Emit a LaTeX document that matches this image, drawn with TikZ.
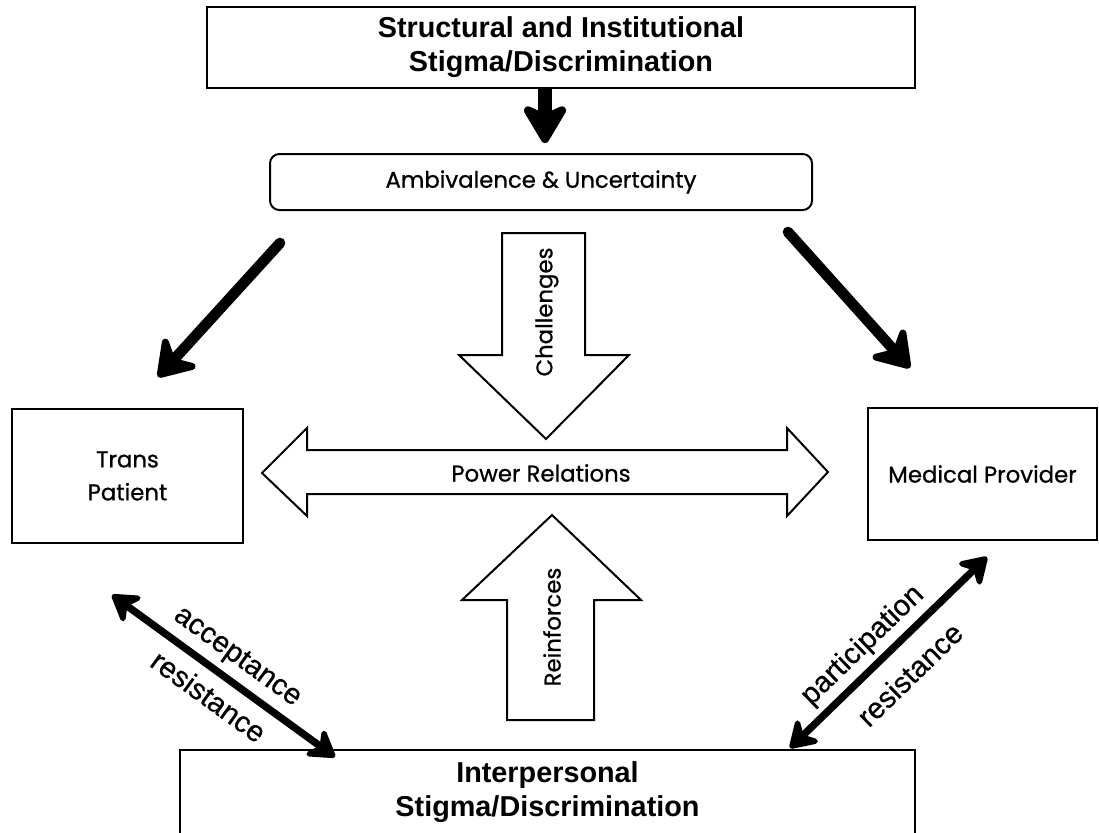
\documentclass[tikz,border=0pt]{standalone}
\usepackage{fontspec}
\setmainfont{Liberation Sans}
\newfontfamily\gothic{Poppins}[FakeBold=0.8]
\newfontfamily\lblfont{Liberation Sans}[FakeBold=0.6]
\usetikzlibrary{arrows.meta}

\tikzset{
  box/.style={draw, line width=1.5pt, inner sep=0pt, align=center},
  headtxt/.style={font=\bfseries\fontsize{21.6}{25.5}\selectfont},
  gothtxt/.style={font=\gothic\fontsize{17.1}{24.75}\selectfont, align=center},
  hollow/.style={draw, line width=1.5pt, line join=miter, fill=white},
  heavy/.style={line width=8pt, line cap=round, -{Stealth[length=32pt,width=42pt,inset=11pt,round]}},
  dbl/.style={line width=5.5pt, {Stealth[length=24pt,width=30pt,inset=8pt,round]}-{Stealth[length=24pt,width=30pt,inset=8pt,round]}},
  lbl/.style={font=\lblfont\fontsize{22}{26}\selectfont, sloped, inner sep=2pt}
}

\begin{document}
\begin{tikzpicture}[x=0.75pt,y=-0.75pt]
\useasboundingbox (0,0) rectangle (1099,832);
\node[box, headtxt, minimum width=531pt, minimum height=60.75pt] (struct) at (561,47.5) {Structural and Institutional\\Stigma/Discrimination};
\node[box, gothtxt, rounded corners=7pt, minimum width=406.5pt, minimum height=42pt] (ambiv) at (541,182) {Ambivalence \& Uncertainty};
\node[box, gothtxt, minimum width=173.25pt, minimum height=100.5pt] (trans) at (127.5,476) {Trans\\Patient};
\node[box, gothtxt, minimum width=171.75pt, minimum height=99pt] (medic) at (982.5,474) {Medical Provider};
\node[box, headtxt, minimum width=551.25pt, minimum height=63pt] (interp) at (547.5,792) {Interpersonal\\Stigma/Discrimination};

\draw[hollow] (502,233) -- (585,233) -- (585,355) -- (629,355) -- (546,439) -- (459,355) -- (502,355) -- cycle;
\draw[hollow] (262,473) -- (307,428) -- (307,450) -- (787,450) -- (787,428) -- (828,472) -- (787,516) -- (787,494) -- (307,494) -- (307,516) -- cycle;
\draw[hollow] (507,720) -- (594,720) -- (594,600) -- (641,600) -- (552,515) -- (462,600) -- (507,600) -- cycle;
\node[gothtxt, rotate=90] (chal) at (547,312) {Challenges};
\node[gothtxt] (power) at (541,473) {Power Relations};
\node[gothtxt, rotate=90] (reinf) at (552,627) {Reinforces};

\coordinate (sa) at (545,88);
\coordinate (sb) at (545,143);
\coordinate (la) at (280,243);
\coordinate (lb) at (158,377);
\coordinate (ra) at (788,232);
\coordinate (rb) at (910,368);
\coordinate (pa) at (112,595);
\coordinate (pb) at (335,757);
\coordinate (qa) at (790,748);
\coordinate (qb) at (987,557);

\draw[line width=10pt, -{Stealth[length=34pt,width=40pt,inset=9pt,round]}] (sa) -- (sb);
\draw[heavy] (la) -- (lb);
\draw[heavy] (ra) -- (rb);
\draw[dbl] (pa) -- node[lbl, above=3pt] {acceptance} node[lbl, below=6pt] {resistance} (pb);
\draw[dbl] (qa) -- node[lbl, above=2pt, pos=0.45] {participation} node[lbl, below=10pt] {resistance} (qb);
\end{tikzpicture}
\end{document}
